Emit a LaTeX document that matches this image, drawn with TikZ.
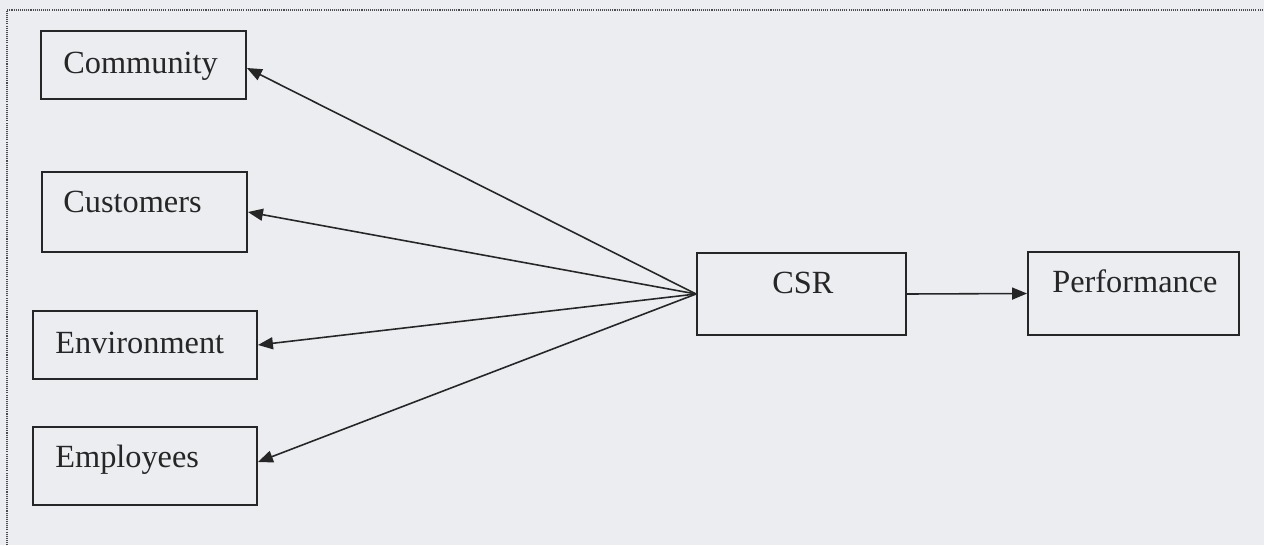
\documentclass[tikz,border=0pt]{standalone}
\usepackage{fontspec}
\setmainfont{Liberation Serif}
\usepackage{xcolor}
\usetikzlibrary{arrows.meta, positioning, calc}

\definecolor{paper}{HTML}{ECEDF0}
\definecolor{ink}{HTML}{262626}

\begin{document}
\begin{tikzpicture}[x=0.02cm, y=-0.02cm,
    box/.style={draw=ink, rectangle, line width=1.1pt, inner sep=0pt},
    txt/.style={anchor=base west, inner sep=0pt, text=ink, font=\fontsize{18.4}{22}\selectfont},
    link/.style={draw=ink, line width=0.9pt, -{Triangle[length=0.3cm, width=0.24cm]}}]

        % page and frame
        \fill[paper] (0,0) rectangle (1264,545);
        \useasboundingbox (0,0) rectangle (1264,545);
        \draw[gray!60!black, line width=0.8pt, dash pattern=on 0.6pt off 0.6pt] (7,560) -- (7,10) -- (1280,10);

        % stakeholder boxes
        \node[box, minimum width=4.1cm, minimum height=1.36cm] (community) at (143.5,65) {};
        \node[box, minimum width=4.1cm, minimum height=1.6cm] (customers) at (144.5,212) {};
        \node[box, minimum width=4.48cm, minimum height=1.36cm] (environment) at (145,345) {};
        \node[box, minimum width=4.48cm, minimum height=1.56cm] (employees) at (145,466) {};
        \node[txt] (community-txt) at (63,73) {Community};
        \node[txt] (customers-txt) at (63,212) {Customers};
        \node[txt] (environment-txt) at (55,353) {Environment};
        \node[txt] (employees-txt) at (55,467) {Employees};

        % CSR and performance
        \node[box, minimum width=4.18cm, minimum height=1.64cm] (csr) at (801.5,294) {};
        \node[box, minimum width=4.22cm, minimum height=1.66cm] (performance) at (1133.5,293.5) {};
        \node[txt] (csr-txt) at (772,293) {CSR};
        \node[txt] (performance-txt) at (1052,292) {Performance};

        % links
        \draw[link] (csr.west) -- ($(community.east)+(0,3)$);
        \draw[link] (csr.west) -- (customers.east);
        \draw[link] (csr.west) -- (environment.east);
        \draw[link] (csr.west) -- ($(employees.east)+(0,-4)$);
        \draw[link] (csr.east) -- (performance.west);

    \end{tikzpicture}
\end{document}
